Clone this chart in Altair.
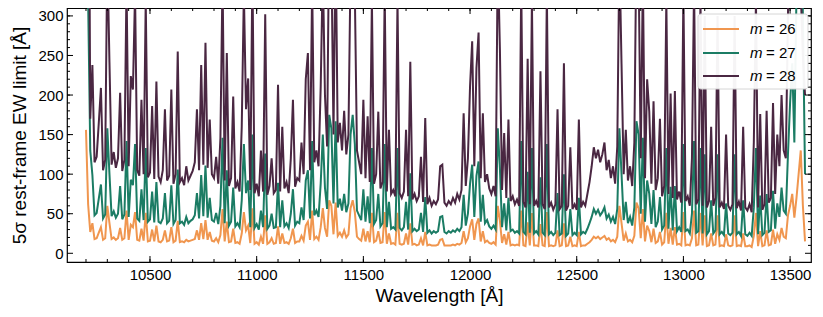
import altair as alt
import pandas as pd

# wavelength grid (Angstrom)
wavelength = list(range(10200, 13580, 10))

# 5-sigma rest-frame EW limits
ew_m28 = [
    1000, 700, 170, 238, 115, 122, 165, 209, 105, 118,
    380, 241, 112, 128, 108, 120, 203, 104, 118, 340,
    110, 224, 207, 330, 105, 98, 194, 100, 320, 96,
    102, 186, 94, 217, 97, 90, 105, 182, 92, 98,
    207, 88, 100, 255, 90, 95, 86, 110, 92, 98,
    104, 115, 182, 105, 238, 112, 266, 108, 169, 100,
    95, 122, 88, 145, 350, 92, 253, 85, 95, 198,
    82, 90, 78, 160, 330, 182, 221, 80, 360, 76,
    88, 72, 130, 78, 302, 74, 85, 120, 76, 80,
    213, 78, 160, 82, 90, 76, 120, 194, 84, 95,
    92, 140, 100, 220, 253, 105, 340, 115, 130, 110,
    210, 360, 200, 135, 420, 380, 150, 400, 140, 165,
    130, 180, 125, 150, 360, 420, 330, 130, 115, 100,
    194, 95, 173, 90, 320, 88, 100, 179, 82, 90,
    330, 78, 156, 75, 80, 72, 320, 76, 70, 78,
    156, 72, 242, 68, 75, 66, 72, 122, 65, 171,
    62, 70, 60, 66, 62, 68, 110, 112, 64, 60,
    66, 62, 70, 64, 75, 68, 80, 177, 85, 120,
    211, 268, 110, 234, 279, 95, 177, 90, 100, 82,
    75, 85, 72, 380, 257, 80, 152, 70, 169, 66,
    72, 62, 68, 60, 340, 65, 58, 246, 62, 320,
    60, 66, 58, 230, 62, 56, 330, 58, 64, 55,
    62, 182, 56, 60, 240, 54, 60, 134, 56, 62,
    55, 169, 58, 65, 60, 75, 90, 110, 134, 120,
    131, 115, 125, 140, 105, 118, 95, 110, 88, 135,
    380, 239, 100, 156, 92, 110, 85, 140, 400, 360,
    120, 350, 95, 220, 179, 88, 192, 80, 95, 170,
    72, 85, 320, 75, 202, 70, 205, 68, 78, 64,
    330, 66, 72, 60, 120, 340, 62, 68, 320, 60,
    300, 58, 66, 160, 60, 70, 300, 58, 64, 56,
    150, 60, 55, 62, 300, 57, 65, 54, 160, 58,
    54, 62, 52, 140, 320, 58, 176, 55, 62, 180,
    64, 70, 190, 75, 150, 110, 200, 130, 120, 300,
    480, 600, 350, 700, 500, 330, 250, 200,
]

ew_m27 = [
    400, 320, 130, 99, 48, 51, 69, 87, 44, 49,
    158, 100, 47, 53, 45, 50, 85, 43, 49, 142,
    46, 93, 86, 138, 44, 41, 81, 42, 133, 40,
    43, 78, 39, 90, 40, 38, 44, 76, 38, 41,
    86, 37, 42, 106, 38, 40, 36, 46, 38, 41,
    43, 48, 76, 44, 99, 47, 111, 45, 70, 42,
    40, 51, 37, 60, 146, 38, 105, 35, 40, 83,
    34, 38, 33, 67, 138, 76, 92, 33, 150, 32,
    37, 30, 54, 33, 126, 31, 35, 50, 32, 33,
    89, 33, 67, 34, 38, 32, 50, 81, 35, 40,
    38, 58, 42, 92, 105, 44, 142, 48, 54, 46,
    88, 150, 83, 56, 175, 158, 63, 167, 58, 69,
    54, 75, 52, 63, 150, 175, 138, 54, 48, 42,
    81, 40, 72, 38, 133, 37, 42, 75, 34, 38,
    138, 33, 65, 31, 33, 30, 133, 32, 29, 33,
    65, 30, 101, 28, 31, 28, 30, 51, 27, 71,
    26, 29, 25, 28, 26, 28, 46, 47, 27, 25,
    28, 26, 29, 27, 31, 28, 33, 74, 35, 50,
    88, 112, 46, 98, 116, 40, 74, 38, 42, 34,
    31, 35, 30, 158, 107, 33, 63, 29, 70, 28,
    30, 26, 28, 25, 142, 27, 24, 103, 26, 133,
    25, 28, 24, 96, 26, 23, 138, 24, 27, 23,
    26, 76, 23, 25, 100, 22, 25, 56, 23, 26,
    23, 70, 24, 27, 25, 31, 38, 46, 56, 50,
    55, 48, 52, 58, 44, 49, 40, 46, 37, 56,
    158, 100, 42, 65, 38, 46, 35, 58, 167, 150,
    50, 146, 40, 92, 75, 37, 80, 33, 40, 71,
    30, 35, 133, 31, 84, 29, 85, 28, 33, 27,
    138, 28, 30, 25, 50, 142, 26, 28, 133, 25,
    125, 24, 28, 67, 25, 29, 125, 24, 27, 23,
    63, 25, 23, 26, 125, 24, 27, 22, 67, 24,
    22, 26, 22, 58, 133, 24, 73, 23, 26, 75,
    27, 29, 79, 31, 63, 46, 83, 54, 50, 125,
    190, 240, 140, 330, 400, 500, 300, 100,
]

ew_m26 = [
    156, 62, 27, 38, 18, 19, 26, 33, 17, 19,
    60, 38, 18, 20, 17, 19, 32, 17, 19, 54,
    17, 36, 33, 52, 17, 16, 31, 16, 51, 15,
    16, 30, 15, 35, 15, 14, 17, 29, 15, 16,
    33, 14, 16, 41, 14, 15, 14, 17, 15, 16,
    17, 18, 29, 17, 38, 18, 42, 17, 27, 16,
    15, 19, 14, 23, 56, 15, 40, 14, 15, 31,
    13, 14, 12, 25, 52, 29, 35, 13, 57, 12,
    14, 11, 21, 12, 48, 12, 14, 19, 12, 13,
    34, 12, 25, 13, 14, 12, 19, 31, 13, 15,
    15, 22, 16, 35, 40, 17, 54, 18, 21, 17,
    33, 57, 32, 21, 67, 60, 24, 64, 22, 26,
    21, 29, 20, 24, 57, 67, 52, 21, 18, 16,
    31, 15, 28, 14, 51, 14, 16, 28, 13, 14,
    52, 12, 25, 12, 13, 11, 51, 12, 11, 12,
    25, 11, 38, 11, 12, 10, 11, 19, 10, 27,
    10, 11, 10, 10, 10, 11, 17, 18, 10, 10,
    10, 10, 11, 10, 12, 11, 13, 28, 14, 19,
    34, 43, 17, 37, 44, 15, 28, 14, 16, 13,
    12, 14, 11, 60, 41, 13, 24, 11, 27, 10,
    11, 10, 11, 10, 54, 10, 9, 39, 10, 51,
    10, 10, 9, 37, 10, 9, 52, 9, 10, 9,
    10, 29, 9, 10, 38, 9, 10, 21, 9, 10,
    9, 27, 9, 10, 10, 12, 14, 17, 21, 19,
    21, 18, 20, 22, 17, 19, 15, 17, 14, 21,
    60, 38, 16, 25, 15, 17, 14, 22, 64, 57,
    19, 56, 15, 35, 28, 14, 31, 13, 15, 27,
    11, 14, 51, 12, 32, 11, 33, 11, 12, 10,
    52, 10, 11, 10, 19, 54, 10, 11, 51, 10,
    48, 9, 10, 25, 10, 11, 48, 9, 10, 9,
    24, 10, 9, 10, 48, 9, 10, 9, 25, 9,
    9, 10, 8, 22, 51, 9, 28, 9, 10, 29,
    10, 11, 30, 12, 24, 17, 32, 21, 19, 48,
    60, 75, 45, 70, 100, 130, 60, 15,
]

series_numbers = ["26", "27", "28"]
series_colors = ["#F0964F", "#1B7C64", "#4A2742"]

x_major = [10500, 11000, 11500, 12000, 12500, 13000, 13500]
x_minor = list(range(10200, 13600, 100))
y_major = [0, 50, 100, 150, 200, 250, 300]
y_minor = list(range(10, 310, 10))

W, H = 744, 254
FONT = "Liberation Sans"

xscale = alt.Scale(domain=[10111, 13598], nice=False, zero=False)
yscale = alt.Scale(domain=[-11, 310], nice=False, zero=False)

x_axis = alt.Axis(
    title="Wavelength [Å]", values=x_major, format="d", grid=False, ticks=False,
    domain=False, labelFont=FONT, labelFontSize=15, labelColor="black",
    labelPadding=5, titleFont=FONT, titleFontSize=19, titleFontWeight="normal",
    titleColor="black", titlePadding=4,
)
y_axis = alt.Axis(
    title="5σ rest-frame EW limit [Å]", values=y_major, format="d", grid=False,
    ticks=False, domain=False, labelFont=FONT, labelFontSize=15,
    labelColor="black", labelPadding=4, titleFont=FONT, titleFontSize=19,
    titleFontWeight="normal", titleColor="black", titlePadding=8,
)

X = alt.X("wl:Q", scale=xscale, axis=x_axis)
Y = alt.Y("ew:Q", scale=yscale, axis=y_axis)


def spectrum(values, color):
    df = pd.DataFrame({"wl": wavelength, "ew": values})
    return alt.Chart(df).mark_line(color=color, strokeWidth=2, clip=True).encode(
        x=X, y=Y
    )


layers = [
    spectrum(ew_m26, series_colors[0]),
    spectrum(ew_m27, series_colors[1]),
    spectrum(ew_m28, series_colors[2]),
]


def xticks(vals, y0, y1):
    df = pd.DataFrame({"wl": vals})
    return alt.Chart(df).mark_rule(color="black", strokeWidth=1).encode(
        x=X, y=alt.value(y0), y2=alt.value(y1),
    )


def yticks(vals, x0, x1):
    df = pd.DataFrame({"ew": vals})
    return alt.Chart(df).mark_rule(color="black", strokeWidth=1).encode(
        y=Y, x=alt.value(x0), x2=alt.value(x1),
    )


layers += [
    xticks(x_major, H, H - 6), xticks(x_minor, H, H - 3),
    xticks(x_major, 0, 6), xticks(x_minor, 0, 3),
    yticks(y_major, 0, 6), yticks(y_minor, 0, 3),
    yticks(y_major, W, W - 6), yticks(y_minor, W, W - 3),
]

# legend (italic m, upright "= NN")
dummy = pd.DataFrame({"a": [0]})
layers.append(
    alt.Chart(dummy).mark_rect(fill="white", stroke="#d4d4d4", strokeWidth=1,
                               cornerRadius=3, opacity=0.95).encode(
        x=alt.value(631), x2=alt.value(741), y=alt.value(6), y2=alt.value(81)
    )
)
legend_rows = [21, 45, 68]
for num, col, yy in zip(series_numbers, series_colors, legend_rows):
    layers.append(
        alt.Chart(dummy).mark_rule(color=col, strokeWidth=2).encode(
            x=alt.value(636), x2=alt.value(672), y=alt.value(yy)
        )
    )
    layers.append(
        alt.Chart(dummy).mark_text(text="m", font=FONT, fontStyle="italic",
                                   fontSize=15, align="left", baseline="middle",
                                   color="black").encode(
            x=alt.value(683), y=alt.value(yy)
        )
    )
    layers.append(
        alt.Chart(dummy).mark_text(text="= " + num, font=FONT, fontSize=15,
                                   align="left", baseline="middle",
                                   color="black").encode(
            x=alt.value(699), y=alt.value(yy)
        )
    )

chart = alt.layer(*layers).properties(
    width=W, height=H,
    autosize=alt.AutoSizeParams(type="none"),
    padding={"left": 59, "top": 0, "right": 4, "bottom": 47},
    background="white",
).configure_view(stroke="black", strokeWidth=1.2)

chart.save("out.html", embed_options={"renderer": "svg", "actions": False})
